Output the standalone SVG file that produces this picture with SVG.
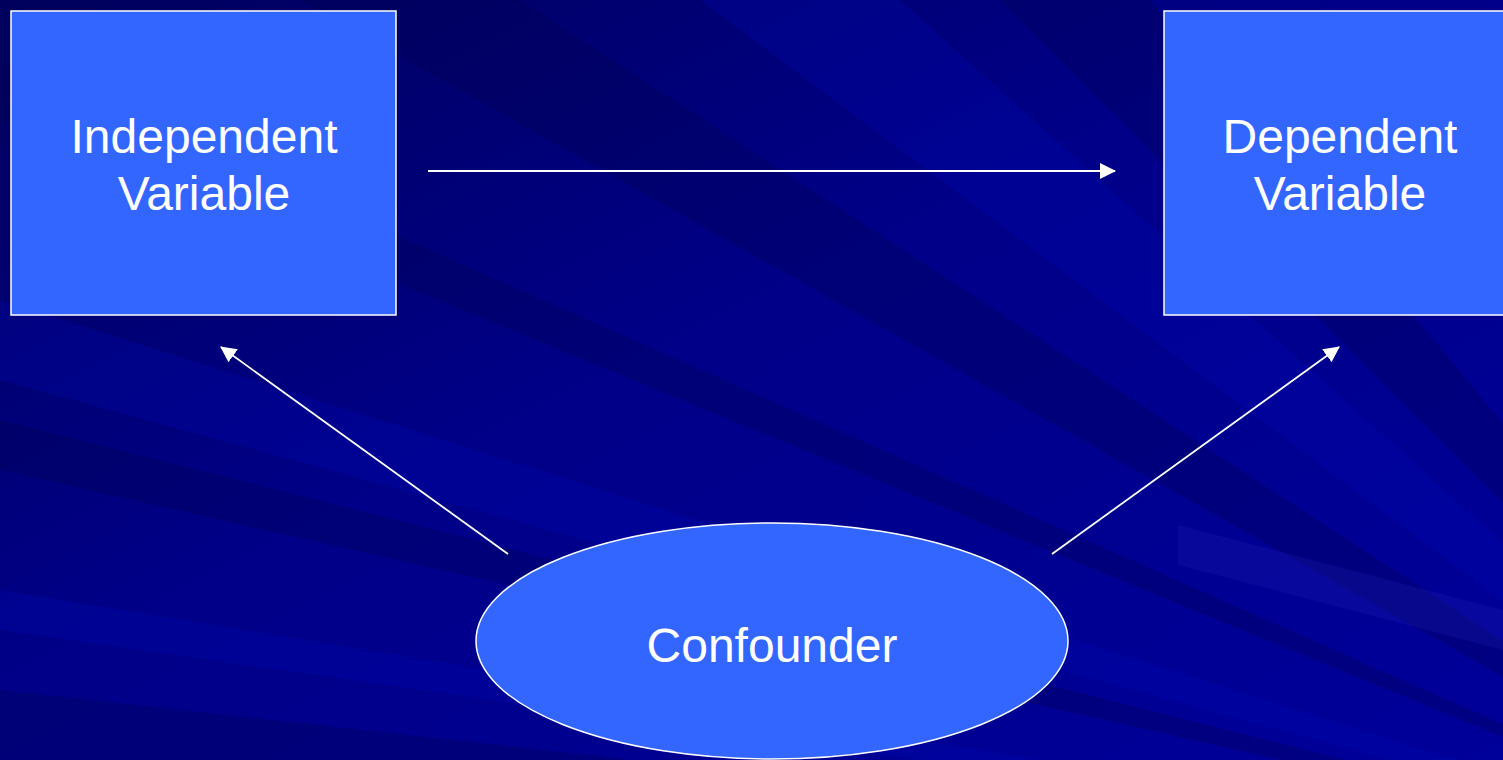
<svg xmlns="http://www.w3.org/2000/svg" width="1503" height="760" viewBox="0 0 1503 760">
  <defs>
    <linearGradient id="bg" x1="0" y1="0" x2="1" y2="1">
      <stop offset="0" stop-color="#00005c"/>
      <stop offset="0.45" stop-color="#000088"/>
      <stop offset="1" stop-color="#00009a"/>
    </linearGradient>
    <marker id="arrow" viewBox="0 0 16 16" refX="15" refY="8" markerWidth="16" markerHeight="16" markerUnits="userSpaceOnUse" orient="auto">
      <path d="M0,0 L16,8 L0,16 Z" fill="#ffffff"/>
    </marker>
    <style>
      .node { fill: #3366ff; stroke: #ffffff; stroke-width: 1.5; }
      .label { fill: #ffffff; font-family: "Liberation Sans", Arial, sans-serif; font-size: 48px; text-anchor: middle; }
      .edge { stroke: #ffffff; stroke-width: 1.8; fill: none; marker-end: url(#arrow); }
      .ray-dark { fill: #000050; opacity: 0.3; }
      .ray-light { fill: #0008b8; opacity: 0.25; }
    </style>
  </defs>

  <!-- background with soft fanned rays -->
  <rect x="0" y="0" width="1503" height="760" fill="url(#bg)"/>
  <g id="rays">
    <polygon class="ray-dark" points="1900,900 300,0 520,0"/>
    <polygon class="ray-dark" points="1900,900 0,120 0,60"/>
    <polygon class="ray-light" points="1900,900 0,300 0,380"/>
    <polygon class="ray-dark" points="1900,900 0,420 0,470"/>
    <polygon class="ray-light" points="1900,900 700,0 900,0"/>
    <polygon class="ray-dark" points="1900,900 1000,0 1150,0"/>
    <polygon class="ray-dark" points="1900,900 0,690 0,760"/>
    <polygon class="ray-light" points="1900,900 0,590 0,630"/>
    <polygon fill="#2a2ac0" opacity="0.2" points="1178,525 1503,610 1503,650 1178,565"/>
  </g>

  <!-- connectors -->
  <g id="connectors">
    <line class="edge" x1="428" y1="171" x2="1115" y2="171"/>
    <line class="edge" x1="508" y1="554" x2="221" y2="347"/>
    <line class="edge" x1="1052" y1="554" x2="1339" y2="347"/>
  </g>

  <g id="independent">
    <rect class="node" x="11" y="11" width="385" height="304"/>
    <text class="label" x="204" y="153">Independent</text>
    <text class="label" x="204" y="210">Variable</text>
  </g>

  <g id="dependent">
    <rect class="node" x="1164" y="11" width="345" height="304"/>
    <text class="label" x="1340" y="153">Dependent</text>
    <text class="label" x="1340" y="210">Variable</text>
  </g>

  <g id="confounder">
    <ellipse class="node" cx="772" cy="641" rx="296" ry="118"/>
    <text class="label" x="772" y="662">Confounder</text>
  </g>
</svg>
